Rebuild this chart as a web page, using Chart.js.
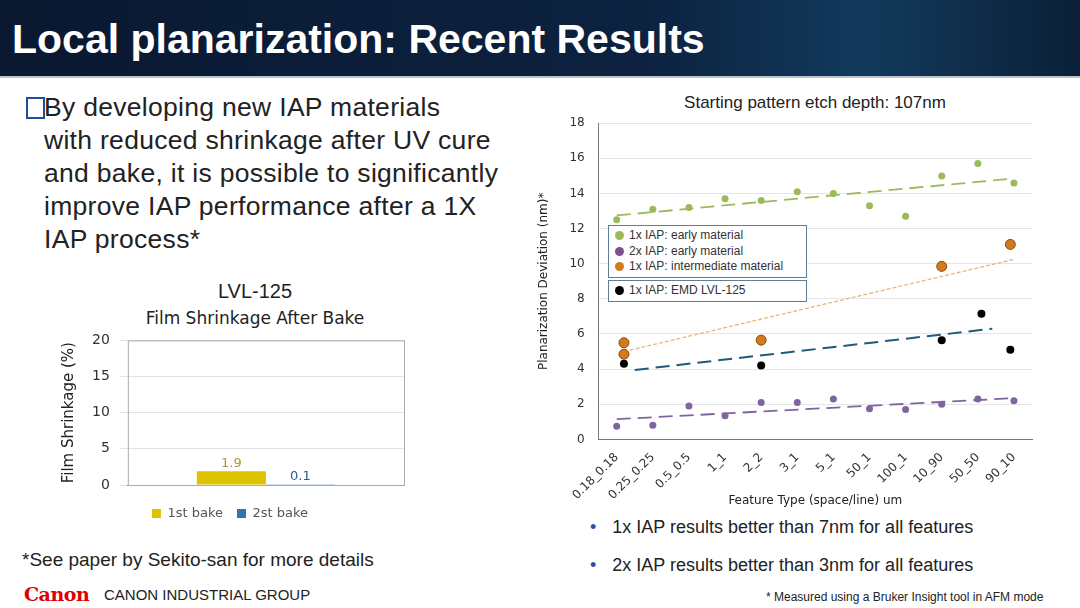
<!DOCTYPE html>
<html>
<head>
<meta charset="utf-8">
<script src="https://cdn.jsdelivr.net/npm/chart.js@4"></script>
<style>
  body { margin: 0; width: 1080px; height: 608px; background: #fff; font-family: "Liberation Sans", Arial, sans-serif; position: relative; overflow: hidden; }
  .abs { position: absolute; }
  #banner { left: 0; top: 0; width: 1080px; height: 76px; background: linear-gradient(90deg, #0a1830 0%, #0c2240 60%, #123a5c 80%, #0b2038 100%); border-bottom: 2px solid #b8c4d0; }
  #banner h1 { margin: 0; position: absolute; left: 12px; top: 16px; color: #fff; font-size: 41px; font-weight: bold; letter-spacing: 0px; }
  .bullet { left: 44px; top: 91px; width: 500px; font-size: 26.5px; line-height: 33px; color: #222; white-space: nowrap; letter-spacing: 0.3px; }
  .box { display: inline-block; width: 15px; height: 18px; border: 2px solid #1f4e9c; position: absolute; left: -18px; top: 6px; }
  .legbox { border: 1.5px solid #5a7f96; background: #fff; font-size: 12px; color: #333; padding: 2px 6px; }
  .legbox div { line-height: 15.5px; }
  .dot { display: inline-block; width: 9px; height: 9px; border-radius: 50%; margin-right: 5px; vertical-align: -1px; }
</style>
</head>
<body>
<div id="banner" class="abs"><h1>Local planarization: Recent Results</h1></div>
<div class="abs bullet"><span class="box"></span>By developing new IAP materials<br>with reduced shrinkage after UV cure<br>and bake, it is possible to significantly<br>improve IAP performance after a 1X<br>IAP process*</div>

<div class="abs" style="left:60px;top:280px;width:390px;text-align:center;font-size:20px;color:#222;">LVL-125</div>
<div class="abs" style="left:60px;top:308px;width:390px;text-align:center;font-size:17px;color:#222;font-family:'DejaVu Sans';">Film Shrinkage After Bake</div>
<canvas id="barChart" class="abs" style="left:56px;top:322px;width:362px;height:208px;"></canvas>

<div class="abs" style="left:22px;top:549px;font-size:19px;color:#222;">*See paper by Sekito-san for more details</div>
<div class="abs" style="left:24px;top:583px;font-size:19px;color:#d00;font-weight:bold;font-family:'DejaVu Serif';letter-spacing:-0.5px;">Canon</div>
<div class="abs" style="left:104px;top:586px;font-size:15px;color:#222;">CANON INDUSTRIAL GROUP</div>

<div class="abs" style="left:560px;top:93px;width:510px;text-align:center;font-size:17px;color:#222;">Starting pattern etch depth: 107nm</div>
<canvas id="scatterChart" class="abs" style="left:533px;top:102px;width:505px;height:406px;"></canvas>
<div class="abs legbox" style="left:608px;top:225px;width:185px;">
  <div><span class="dot" style="background:#9bbb59"></span>1x IAP: early material</div>
  <div><span class="dot" style="background:#7e4f8f"></span>2x IAP: early material</div>
  <div><span class="dot" style="background:#d27a1e"></span>1x IAP: intermediate material</div>
</div>
<div class="abs legbox" style="left:608px;top:280px;width:185px;">
  <div><span class="dot" style="background:#000"></span>1x IAP: EMD LVL-125</div>
</div>

<div class="abs" style="left:590px;top:517px;font-size:18px;color:#222;"><span style="color:#2f4f9f;margin-right:16px;">•</span>1x IAP results better than 7nm for all features</div>
<div class="abs" style="left:590px;top:555px;font-size:18px;color:#222;"><span style="color:#2f4f9f;margin-right:16px;">•</span>2x IAP results better than 3nm for all features</div>
<div class="abs" style="left:766px;top:590px;font-size:12px;color:#222;">* Measured using a Bruker Insight tool in AFM mode</div>

<script>
// left chart
const barSeries = ['1st bake', '2st bake'];
const barValues = [1.9, 0.1];
const barColors = ['#dcc300', '#2e75b6'];
const barTicks = [0, 5, 10, 15, 20];

// right chart
const featureTypes = ['0.18_0.18', '0.25_0.25', '0.5_0.5', '1_1', '2_2', '3_1', '5_1', '50_1', '100_1', '10_90', '50_50', '90_10'];
const earlyX = [0, 1, 2, 3, 4, 5, 6, 7, 8, 9, 10, 11];
const early1x = [12.5, 13.1, 13.2, 13.7, 13.6, 14.1, 14.0, 13.3, 12.7, 15.0, 15.7, 14.6];
const early2x = [0.75, 0.8, 1.9, 1.35, 2.1, 2.1, 2.3, 1.75, 1.7, 2.0, 2.3, 2.2];
const interX = [0.2, 0.2, 4, 9, 10.9];
const inter1x = [5.5, 4.85, 5.65, 9.85, 11.1];
const emdX = [0.2, 4, 9, 10.1, 10.9];
const emd1x = [4.3, 4.2, 5.65, 7.15, 5.1];
const trendEarly1x = [[0, 12.75], [11, 14.85]];
const trendEarly2x = [[0, 1.15], [11, 2.35]];
const trendInter = [[0.2, 5.0], [11, 10.25]];
const trendEmd = [[0.5, 3.95], [10.4, 6.3]];

const pts = (xs, ys) => xs.map((x, i) => ({ x: x, y: ys[i] }));
const seg = (arr) => arr.map(p => ({ x: p[0], y: p[1] }));

const barLabels = {
  id: 'barLabels',
  afterDatasetsDraw(chart) {
    const ctx = chart.ctx;
    ctx.save();
    ctx.font = '13px "DejaVu Sans"';
    ctx.textAlign = 'center';
    chart.data.datasets.forEach((ds, i) => {
      const el = chart.getDatasetMeta(i).data[0];
      ctx.fillStyle = i === 0 ? '#a89a30' : '#2e5f8f';
      ctx.fillText(ds.data[0], el.x, el.y - 8);
    });
    ctx.restore();
  }
};

const plotFrame = {
  id: 'plotFrame',
  beforeDatasetsDraw(chart) {
    const a = chart.chartArea, ctx = chart.ctx;
    ctx.save();
    ctx.strokeStyle = '#aaa';
    ctx.lineWidth = 1;
    ctx.strokeRect(a.left + 0.5, a.top + 0.5, a.right - a.left, a.bottom - a.top);
    ctx.restore();
  }
};

new Chart(document.getElementById('barChart'), {
  type: 'bar',
  data: {
    labels: [''],
    datasets: barSeries.map((s, i) => ({ label: s, data: [barValues[i]], backgroundColor: barColors[i] }))
  },
  options: {
    responsive: false, animation: false,
    datasets: { bar: { categoryPercentage: 0.5, barPercentage: 1 } },
    layout: { padding: { right: 14, top: 6 } },
    plugins: {
      legend: { position: 'bottom', labels: { boxWidth: 9, boxHeight: 9, padding: 14, font: { size: 13, family: 'DejaVu Sans' }, color: '#555' } },
      tooltip: { enabled: false }
    },
    scales: {
      x: { grid: { display: false }, border: { color: '#777' }, ticks: { display: false } },
      y: {
        min: 0, max: 20, afterBuildTicks: (ax) => { ax.ticks = barTicks.map(v => ({ value: v })); },
        grid: { color: '#e3e3e3' }, border: { display: false },
        ticks: { font: { size: 14, family: 'DejaVu Sans' }, color: '#333', padding: 10 },
        title: { display: true, text: 'Film Shrinkage (%)', font: { size: 15, family: 'DejaVu Sans' }, color: '#222' }
      }
    }
  },
  plugins: [barLabels, plotFrame]
});

const trendStyle = (color, dash, width) => ({ type: 'line', borderColor: color, borderDash: dash, borderWidth: width, pointRadius: 0, fill: false });

new Chart(document.getElementById('scatterChart'), {
  type: 'scatter',
  data: {
    datasets: [
      { data: pts(earlyX, early1x), backgroundColor: '#9bbb59', pointRadius: 3.5, pointBorderWidth: 0 },
      { data: pts(earlyX, early2x), backgroundColor: '#8064a2', pointRadius: 3.5, pointBorderWidth: 0 },
      { data: pts(interX, inter1x), backgroundColor: '#d27a1e', borderColor: '#8a4a10', pointRadius: 5, pointBorderWidth: 1 },
      { data: pts(emdX, emd1x), backgroundColor: '#000', pointRadius: 4, pointBorderWidth: 0 },
      Object.assign({ data: seg(trendEarly1x) }, trendStyle('#9bbb59', [14, 7], 1.8)),
      Object.assign({ data: seg(trendEarly2x) }, trendStyle('#8064a2', [14, 7], 1.8)),
      Object.assign({ data: seg(trendInter) }, trendStyle('#e8b070', [4, 2], 1.2)),
      Object.assign({ data: seg(trendEmd) }, trendStyle('#1f5a7a', [14, 7], 2))
    ]
  },
  options: {
    responsive: false, animation: false,
    layout: { padding: { top: 8 } },
    plugins: { legend: { display: false }, tooltip: { enabled: false } },
    scales: {
      x: {
        type: 'linear', min: -0.5, max: 11.5,
        afterBuildTicks: (ax) => { ax.ticks = featureTypes.map((_, i) => ({ value: i })); },
        grid: { display: false }, border: { color: '#777' },
        ticks: { autoSkip: false, maxRotation: 45, minRotation: 45, font: { size: 12, family: 'DejaVu Sans' }, color: '#333', callback: (v) => featureTypes[v] },
        title: { display: true, text: 'Feature Type (space/line) um', font: { size: 12, family: 'DejaVu Sans' }, color: '#222', padding: { top: -12, bottom: 0 } }
      },
      y: {
        min: 0, max: 18, ticks: { stepSize: 2, font: { size: 12, family: 'DejaVu Sans' }, color: '#333', padding: 14 },
        grid: { color: '#e6e6e6', drawTicks: false }, border: { color: '#777' },
        title: { display: true, text: 'Planarization Deviation (nm)*', font: { size: 12, family: 'DejaVu Sans' }, color: '#222' }
      }
    }
  }
});
</script>
</body>
</html>
